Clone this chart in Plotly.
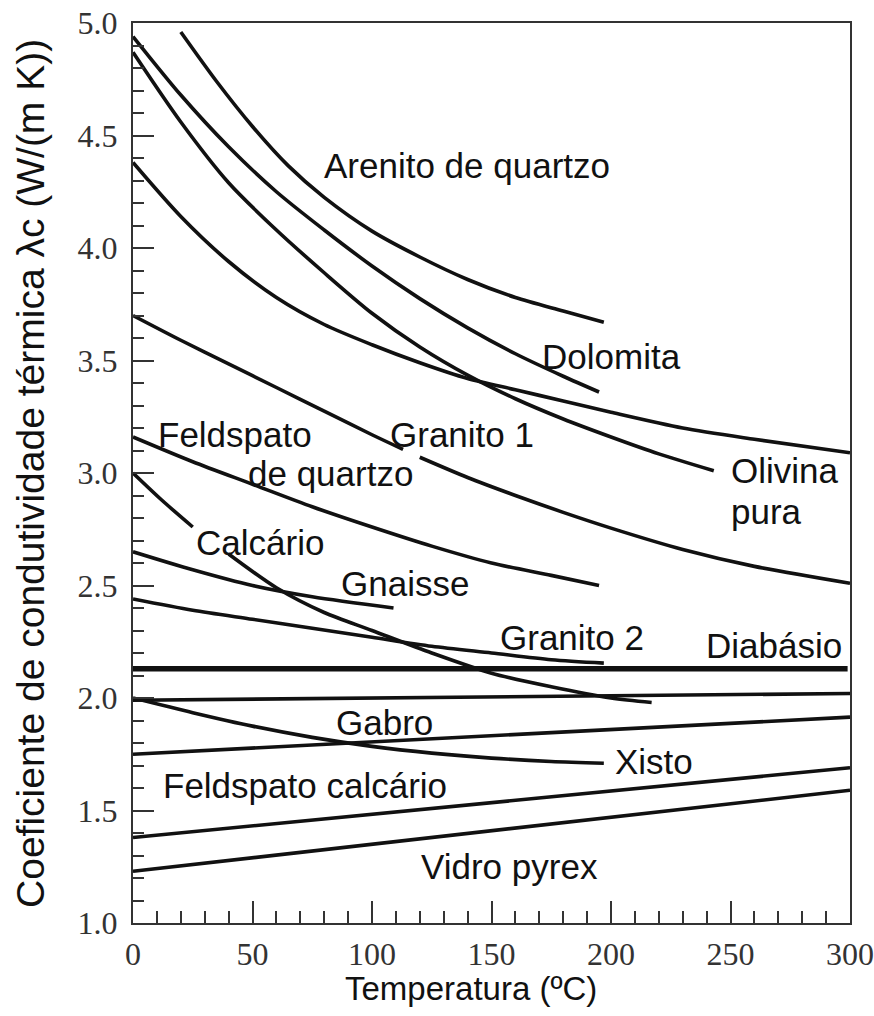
import plotly.graph_objects as go

# ---- data (x: temperature in C, y: conductivity W/(m K)) ----
arenito_x = [20, 35, 50, 65, 80, 100, 120, 140, 160, 180, 197]
arenito_y = [4.96, 4.74, 4.54, 4.365, 4.225, 4.075, 3.96, 3.86, 3.78, 3.72, 3.67]

dolomita_x = [0, 20, 40, 60, 80, 100, 120, 140, 160, 180, 195]
dolomita_y = [4.94, 4.68, 4.45, 4.25, 4.08, 3.92, 3.775, 3.645, 3.53, 3.43, 3.36]

olivina_x = [0, 20, 40, 60, 80, 100, 120, 140, 160, 180, 200, 220, 243]
olivina_y = [4.87, 4.56, 4.29, 4.08, 3.89, 3.71, 3.56, 3.435, 3.33, 3.24, 3.16, 3.085, 3.01]

curva4_x = [0, 20, 40, 60, 80, 100, 120, 140, 160, 180, 200, 230, 260, 300]
curva4_y = [4.38, 4.14, 3.94, 3.78, 3.66, 3.57, 3.49, 3.42, 3.37, 3.32, 3.27, 3.20, 3.15, 3.09]

granito1_x = [0, 20, 40, 60, 80, 100, 113, None, 120, 140, 160, 180, 200, 230, 260, 300]
granito1_y = [3.70, 3.59, 3.485, 3.38, 3.275, 3.17, 3.105, None, 3.07, 2.98, 2.90, 2.825, 2.755, 2.66, 2.585, 2.51]

feldq_x = [0, 25, 50, 75, 100, 125, 150, 175, 195]
feldq_y = [3.16, 3.05, 2.95, 2.85, 2.76, 2.675, 2.60, 2.545, 2.50]

calcario_x = [0, 12, 25, None, 40, 60, 80, 100, 125, 150, 175, 200, 217]
calcario_y = [3.00, 2.88, 2.76, None, 2.64, 2.49, 2.38, 2.30, 2.20, 2.11, 2.05, 2.00, 1.98]

gnaisse_x = [0, 25, 50, 75, 109]
gnaisse_y = [2.65, 2.57, 2.50, 2.45, 2.40]

granito2_x = [0, 25, 50, 75, 100, 125, 150, 175, 197]
granito2_y = [2.44, 2.39, 2.35, 2.31, 2.27, 2.23, 2.20, 2.17, 2.155]

diabasio_x = [0, 299]
diabasio_y = [2.13, 2.13]

curva11_x = [0, 300]
curva11_y = [1.99, 2.02]

xisto_x = [0, 25, 50, 75, 100, 125, 150, 175, 197]
xisto_y = [2.00, 1.935, 1.875, 1.825, 1.785, 1.755, 1.733, 1.718, 1.71]

gabro_x = [0, 300]
gabro_y = [1.75, 1.915]

feldc_x = [0, 300]
feldc_y = [1.38, 1.69]

pyrex_x = [0, 300]
pyrex_y = [1.23, 1.59]

curves = [
    ("Arenito de quartzo", arenito_x, arenito_y, 3.6),
    ("Dolomita", dolomita_x, dolomita_y, 3.6),
    ("Olivina pura", olivina_x, olivina_y, 3.6),
    ("Curva 4", curva4_x, curva4_y, 3.6),
    ("Granito 1", granito1_x, granito1_y, 3.6),
    ("Feldspato de quartzo", feldq_x, feldq_y, 3.6),
    ("Calcário", calcario_x, calcario_y, 3.6),
    ("Gnaisse", gnaisse_x, gnaisse_y, 3.6),
    ("Granito 2", granito2_x, granito2_y, 3.6),
    ("Diabásio", diabasio_x, diabasio_y, 5.5),
    ("Curva 11", curva11_x, curva11_y, 3.6),
    ("Xisto", xisto_x, xisto_y, 3.6),
    ("Gabro", gabro_x, gabro_y, 3.6),
    ("Feldspato calcário", feldc_x, feldc_y, 3.6),
    ("Vidro pyrex", pyrex_x, pyrex_y, 3.6),
]

# labels: (text, x, y, xanchor)
labels = [
    ("Arenito de quartzo", 139.9, 4.365, "center"),
    ("Dolomita", 200.3, 3.52, "center"),
    ("Granito 1", 137.8, 3.17, "center"),
    ("Olivina", 249.5, 3.01, "left"),
    ("pura", 249.5, 2.83, "left"),
    ("Feldspato", 9.5, 3.17, "left"),
    ("de quartzo", 47.2, 3.0, "left"),
    ("Calcário", 25.5, 2.69, "left"),
    ("Gnaisse", 86.3, 2.51, "left"),
    ("Granito 2", 152.9, 2.27, "left"),
    ("Diabásio", 238.8, 2.235, "left"),
    ("Gabro", 84.2, 1.89, "left"),
    ("Xisto", 201.0, 1.72, "left"),
    ("Feldspato calcário", 11.7, 1.61, "left"),
    ("Vidro pyrex", 119.8, 1.25, "left"),
]

x_ticks = [0, 50, 100, 150, 200, 250, 300]
y_ticks = [1.0, 1.5, 2.0, 2.5, 3.0, 3.5, 4.0, 4.5, 5.0]

fig = go.Figure()
for name, xs, ys, w in curves:
    fig.add_trace(go.Scatter(x=xs, y=ys, mode="lines", name=name,
                             line=dict(color="#111111", width=w, shape="spline", smoothing=0.8),
                             connectgaps=False, showlegend=False, hoverinfo="skip"))

for text, x, y, xa in labels:
    fig.add_annotation(x=x, y=y, xref="x", yref="y", text=text, showarrow=False,
                       xanchor=xa, yanchor="middle", align="left",
                       font=dict(family="Liberation Sans, Arial, sans-serif", size=35, color="#111111"))

fig.add_annotation(xref="paper", yref="paper", x=0.471, y=-0.073, text="Temperatura (ºC)",
                   showarrow=False, xanchor="center", yanchor="middle",
                   font=dict(family="Liberation Sans, Arial, sans-serif", size=33, color="#111111"))
fig.add_annotation(xref="paper", yref="paper", x=-0.1437, y=0.5,
                   text="Coeficiente de condutividade térmica λc (W/(m K))",
                   textangle=-90, showarrow=False, xanchor="center", yanchor="middle",
                   font=dict(family="Liberation Sans, Arial, sans-serif", size=39, color="#111111"))

axis_common = dict(showline=True, linecolor="#333333", linewidth=2, mirror=True,
                   showgrid=False, zeroline=False, ticks="inside", tickcolor="#333333",
                   tickwidth=1.6, automargin=False, ticklabeloverflow="allow",
                   tickfont=dict(family="Liberation Serif, Times New Roman, serif", size=32, color="#333333"))

fig.update_xaxes(range=[0, 300], tickvals=x_ticks, ticklen=22, ticklabelstandoff=2,
                 minor=dict(ticks="inside", dtick=10, tick0=0, ticklen=12, tickcolor="#333333", tickwidth=1.6),
                 **axis_common)
fig.update_yaxes(range=[1, 5], tickvals=y_ticks, tickformat=".1f", ticklen=21, ticklabelstandoff=7,
                 minor=dict(ticks="inside", dtick=0.1, tick0=1, ticklen=11, tickcolor="#333333", tickwidth=1.6),
                 **axis_common)

fig.update_layout(width=874, height=1016, margin=dict(l=133, r=24, t=23, b=93),
                  paper_bgcolor="white", plot_bgcolor="white", showlegend=False)

# remove the default page margin so the figure fills the window exactly
fig.write_html("out.html", config={"displayModeBar": False},
               post_script="document.body.style.margin='0';document.body.style.overflow='hidden';")
